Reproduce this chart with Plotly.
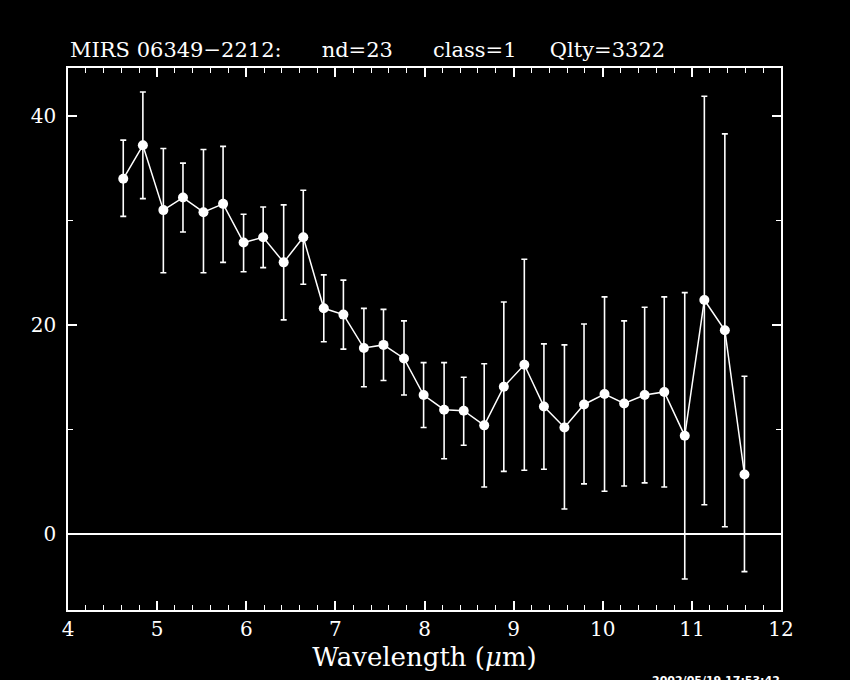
import plotly.graph_objects as go

# Data
wavelength = [4.62, 4.84, 5.07, 5.29, 5.52, 5.74, 5.97, 6.19, 6.42, 6.64, 6.87, 7.09,
              7.32, 7.54, 7.77, 7.99, 8.22, 8.44, 8.67, 8.89, 9.12, 9.34, 9.57, 9.79,
              10.02, 10.24, 10.47, 10.69, 10.92, 11.14, 11.37, 11.59]
flux = [34.0, 37.2, 31.0, 32.2, 30.8, 31.6, 27.9, 28.4, 26.0, 28.4, 21.6, 21.0,
        17.8, 18.1, 16.8, 13.3, 11.9, 11.8, 10.4, 14.1, 16.2, 12.2, 10.2, 12.4,
        13.4, 12.5, 13.3, 13.6, 9.4, 22.4, 19.5, 5.7]
flux_upper = [37.7, 42.3, 36.9, 35.5, 36.8, 37.1, 30.6, 31.3, 31.5, 32.9, 24.8, 24.3,
              21.6, 21.5, 20.4, 16.4, 16.4, 15.0, 16.3, 22.2, 26.3, 18.2, 18.1, 20.1,
              22.7, 20.4, 21.7, 22.7, 23.1, 41.9, 38.3, 15.1]
flux_lower = [30.4, 32.1, 25.0, 28.9, 25.0, 26.0, 25.1, 25.5, 20.5, 23.9, 18.4, 17.7,
              14.1, 14.7, 13.3, 10.2, 7.2, 8.5, 4.5, 6.0, 6.1, 6.2, 2.4, 4.8,
              4.1, 4.6, 4.9, 4.5, -4.3, 2.8, 0.7, -3.6]

NB = "\u00a0"
title_text = ("MIRS 06349\u22122212:" + NB * 6 + "nd=23" + NB * 6 + "class=1"
              + NB * 5 + "Qlty=3322")
x_title = "Wavelength (<i>\u03bc</i>m)"
timestamp = "2002/05/19 17:53:42"
x_tickvals = [4, 5, 6, 7, 8, 9, 10, 11, 12]
y_tickvals = [0, 20, 40]

err_plus = [u - f for u, f in zip(flux_upper, flux)]
err_minus = [f - l for f, l in zip(flux, flux_lower)]

FONT = "DejaVu Serif"

fig = go.Figure()
fig.add_trace(go.Scatter(
    x=wavelength, y=flux, mode="lines+markers",
    line=dict(color="white", width=1.5),
    marker=dict(color="white", size=10, symbol="circle"),
    error_y=dict(type="data", symmetric=False, array=err_plus, arrayminus=err_minus,
                 color="white", thickness=1.6, width=3),
    showlegend=False,
))

fig.update_layout(
    width=850, height=680,
    paper_bgcolor="black", plot_bgcolor="black",
    margin=dict(l=68, r=69, t=68, b=70),
    font=dict(family=FONT, color="white", size=20),
    xaxis=dict(
        range=[4, 12], tickvals=x_tickvals, ticks="inside", ticklen=9, tickwidth=1.5,
        tickcolor="white", showline=True, linecolor="white", linewidth=1.5,
        mirror="allticks", showgrid=False, zeroline=False,
        tickfont=dict(family=FONT, size=20, color="white"),
        minor=dict(dtick=0.2, ticks="inside", ticklen=5, tickwidth=1.2, tickcolor="white", showgrid=False),
        title=dict(text=x_title, font=dict(family=FONT, size=26, color="white"), standoff=8),
    ),
    yaxis=dict(
        range=[-7.27, 44.6], tickvals=y_tickvals, ticks="inside", ticklen=9, tickwidth=1.5,
        tickcolor="white", showline=True, linecolor="white", linewidth=1.5,
        mirror="allticks", showgrid=False,
        zeroline=True, zerolinecolor="white", zerolinewidth=2,
        tickfont=dict(family=FONT, size=20, color="white"),
        ticklabelstandoff=6,
        minor=dict(dtick=10, ticks="inside", ticklen=5, tickwidth=1.2, tickcolor="white", showgrid=False),
    ),
    annotations=[
        dict(text=title_text, xref="paper", yref="paper", x=0, y=1.0, yshift=4,
             xanchor="left", yanchor="bottom", showarrow=False,
             font=dict(family=FONT, size=21, color="white")),
        dict(text="<b>" + timestamp + "</b>", xref="paper", yref="paper", x=1.0, xshift=1, y=-0.115,
             xanchor="right", yanchor="top", showarrow=False,
             font=dict(family="DejaVu Sans", size=11, color="white")),
    ],
)

fig.write_html("out.html", config={"displayModeBar": False},
               post_script="document.body.style.margin='0';document.body.style.background='black';")
